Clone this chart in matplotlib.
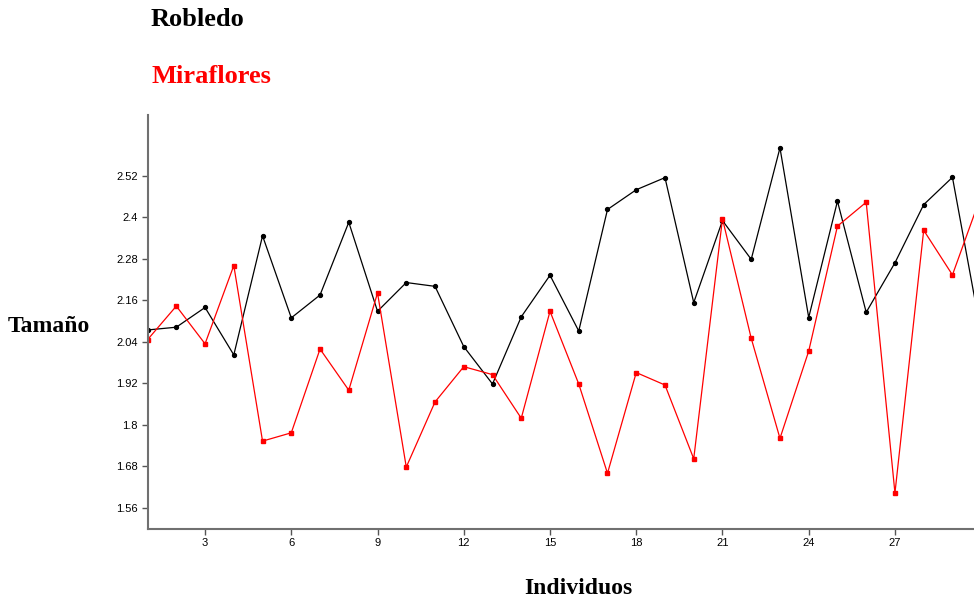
import numpy as np
import matplotlib.pyplot as plt

# tamaño por individuo en cada localidad
individuos = np.arange(1, 31)
robledo = [2.074, 2.082, 2.139, 2.002, 2.346, 2.109, 2.175, 2.385, 2.128, 2.211,
           2.200, 2.026, 1.918, 2.112, 2.232, 2.071, 2.422, 2.479, 2.514, 2.153,
           2.390, 2.278, 2.600, 2.110, 2.446, 2.125, 2.268, 2.436, 2.515, 2.063]
miraflores = [2.046, 2.143, 2.034, 2.260, 1.753, 1.777, 2.019, 1.900, 2.181, 1.678,
              1.866, 1.968, 1.945, 1.819, 2.128, 1.918, 1.660, 1.951, 1.915, 1.702,
              2.395, 2.050, 1.761, 2.013, 2.374, 2.443, 1.603, 2.362, 2.233, 2.463]
yticks = [1.56, 1.68, 1.8, 1.92, 2.04, 2.16, 2.28, 2.4, 2.52]
xticks = [3, 6, 9, 12, 15, 18, 21, 24, 27]

fig = plt.figure(figsize=(9.74, 6.01), dpi=100)
ax = fig.add_axes([0.1515, 0.1203, 0.8485, 0.6884])

ax.plot(individuos, robledo, color='black', lw=0.9, marker='o', ms=2.8)
ax.plot(individuos, miraflores, color='red', lw=0.9, marker='s', ms=2.6)

ax.set_xlim(1, 29.75)
ax.set_ylim(1.5, 2.695)
ax.set_xticks(xticks)
ax.set_yticks(yticks)
ax.set_yticklabels([f'{t:g}' for t in yticks])

for side in ('top', 'right'):
    ax.spines[side].set_visible(False)
for side in ('left', 'bottom'):
    ax.spines[side].set_color('#707070')
    ax.spines[side].set_linewidth(1.5)
ax.tick_params(direction='out', length=4, width=1, color='#555555',
               labelsize=8, pad=3)
for lab in ax.get_xticklabels() + ax.get_yticklabels():
    lab.set_fontfamily('Liberation Sans')

serif = dict(family='Liberation Serif', weight='bold')
fig.text(151 / 974, 1 - 26 / 601, 'Robledo', color='black', fontsize=19,
         va='baseline', **serif)
fig.text(151 / 974, 1 - 83 / 601, 'Miraflores', color='red', fontsize=19,
         va='baseline', **serif)
fig.text(8 / 974, 1 - 332 / 601, 'Tamaño', color='black', fontsize=17,
         va='baseline', **serif)
fig.text(578 / 974, 1 - 594 / 601, 'Individuos', color='black', fontsize=17,
         va='baseline', ha='center', **serif)

fig.savefig('out.png', dpi=100)
